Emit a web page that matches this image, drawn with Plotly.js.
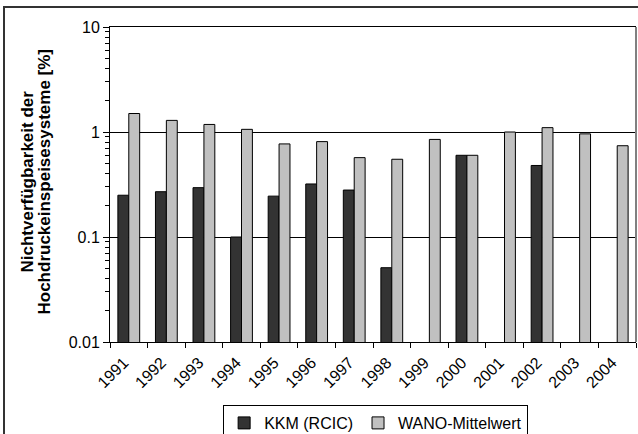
<!DOCTYPE html>
<html>
<head>
<meta charset="utf-8">
<script src="https://cdn.plot.ly/plotly-3.0.1.min.js"></script>
<style>
  html, body { margin: 0; padding: 0; width: 638px; height: 434px; overflow: hidden; background: #fff; }
  #frame { position: absolute; left: 3px; top: 6px; width: 660px; height: 460px; border: 2px solid #333; box-sizing: border-box; }
  #chart { position: absolute; left: 0; top: 0; width: 638px; height: 464px; }
</style>
</head>
<body>
<div id="frame"></div>
<div id="chart"></div>
<script>
// Unavailability of high-pressure injection systems, per year (%)
const years = ['1991','1992','1993','1994','1995','1996','1997','1998','1999','2000','2001','2002','2003','2004'];
const kkmRcic = [0.25, 0.27, 0.295, 0.10, 0.245, 0.32, 0.28, 0.051, null, 0.60, null, 0.48, null, null];
const wanoMean = [1.50, 1.29, 1.18, 1.06, 0.77, 0.81, 0.57, 0.55, 0.85, 0.60, 1.00, 1.10, 0.96, 0.74];

const majorTicks = [0.01, 0.1, 1, 10];
const majorLabels = ['0.01', '0.1', '1', '10'];
const yTitleLines = ['Nichtverfügbarkeit der', 'Hochdruckeinspeisesysteme [%]'];

// minor log ticks 2..9 within each decade
const minorTicks = [];
[0.01, 0.1, 1].forEach(function (d) {
  for (let k = 2; k <= 9; k++) minorTicks.push(+(k * d).toPrecision(3));
});

const family = 'Liberation Sans, Arial, sans-serif';
const font = { family: family, size: 16, color: '#000' };

const traces = [
  {
    type: 'bar', name: 'KKM (RCIC)', x: years, y: kkmRcic,
    marker: { color: '#333333', line: { color: '#000', width: 1 } },
    hoverinfo: 'x+y'
  },
  {
    type: 'bar', name: 'WANO-Mittelwert', x: years, y: wanoMean,
    marker: { color: '#c0c0c0', line: { color: '#000', width: 1 } },
    hoverinfo: 'x+y'
  },
  {
    type: 'scatter', mode: 'none', x: [years[0]], y: [1], yaxis: 'y2',
    showlegend: false, hoverinfo: 'skip'
  }
];

// two-line axis title, drawn as rotated annotations with tight line spacing
const titleAnnotations = yTitleLines.map(function (line, i) {
  return {
    text: '<b>' + line + '</b>',
    xref: 'paper', yref: 'paper',
    x: 0, y: 0.5, xanchor: 'center', yanchor: 'middle',
    xshift: -83 + i * 17, yshift: 3,
    textangle: -90, showarrow: false,
    font: { family: family, size: 17, color: '#000' }
  };
});

const layout = {
  width: 638, height: 464,
  margin: { l: 110, r: 2, t: 27, b: 122 },
  paper_bgcolor: 'rgba(0,0,0,0)',
  plot_bgcolor: '#fff',
  font: font,
  barmode: 'group',
  bargap: 0.42,
  bargroupgap: 0,
  showlegend: true,
  legend: {
    orientation: 'h',
    x: 0.505, xanchor: 'center',
    y: -0.200, yanchor: 'top',
    bordercolor: '#000', borderwidth: 1,
    bgcolor: '#fff',
    font: font,
    itemwidth: 30,
    tracegroupgap: 0
  },
  xaxis: {
    type: 'category', automargin: false,
    showline: true, linecolor: '#000', linewidth: 1, mirror: true,
    ticks: 'outside', ticklen: 5, tickcolor: '#000', tickson: 'boundaries',
    tickangle: -45, tickfont: font,
    ticklabelshift: -5, ticklabelstandoff: 4,
    showgrid: false, zeroline: false
  },
  yaxis: {
    type: 'log', range: [-2, 1], automargin: false,
    tickvals: majorTicks, ticktext: majorLabels,
    ticks: 'outside', ticklen: 6, tickcolor: '#000',
    showline: true, linecolor: '#000', linewidth: 1,
    showgrid: true, gridcolor: '#000', gridwidth: 1,
    tickfont: font
  },
  yaxis2: {
    type: 'log', range: [-2, 1], overlaying: 'y', side: 'left', automargin: false,
    tickvals: minorTicks, ticks: 'outside', ticklen: 4, tickcolor: '#000',
    showticklabels: false, showgrid: false, showline: false, zeroline: false
  },
  annotations: titleAnnotations,
  shapes: [
    { type: 'line', xref: 'paper', yref: 'paper', x0: 1, x1: 1, y0: 0, y1: 1,
      line: { color: '#808080', width: 2 } }
  ]
};

Plotly.newPlot('chart', traces, layout, { displayModeBar: false, staticPlot: true });
</script>
</body>
</html>
